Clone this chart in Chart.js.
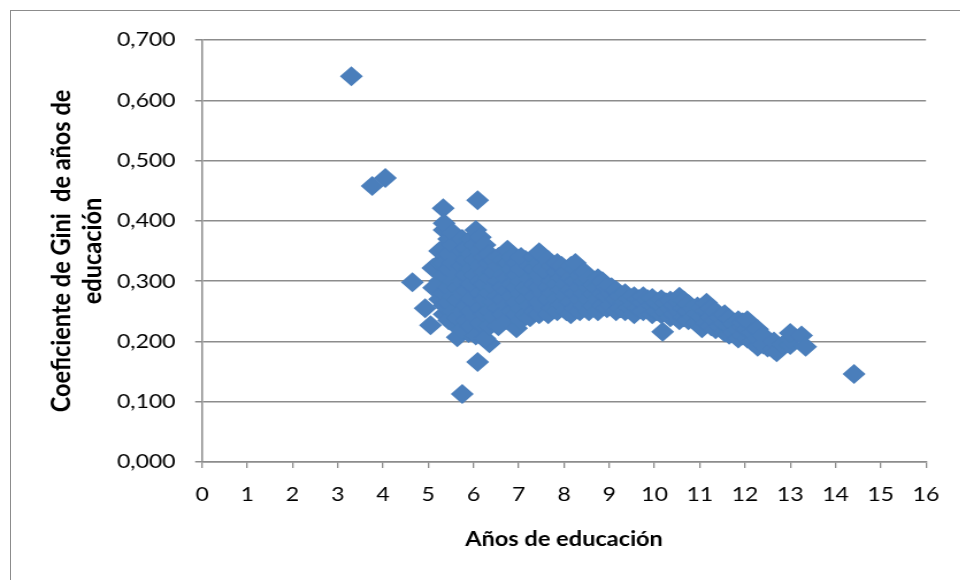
<!DOCTYPE html>
<html>
<head>
<meta charset="utf-8">
<script src="https://cdn.jsdelivr.net/npm/chart.js@4.4.1/dist/chart.umd.min.js"></script>
<style>
  html, body { margin: 0; padding: 0; background: #fff; overflow: hidden; width: 960px; height: 580px; }
  #frame { position: absolute; left: 10px; top: 10px; width: 2000px; height: 2000px; border: 1.5px solid #8c8c8c; box-sizing: border-box; }
  #wrap { position: absolute; left: 0; top: 0; width: 835px; height: 580px; transform: scaleX(1.15); transform-origin: 0 0; }
</style>
</head>
<body>
<div id="frame"></div>
<div id="wrap"><canvas id="c" width="835" height="580"></canvas></div>
<script>
// ---- data ----
const xTickLabels = ['0','1','2','3','4','5','6','7','8','9','10','11','12','13','14','15','16'];
const yTickLabels = ['0,000','0,100','0,200','0,300','0,400','0,500','0,600','0,700'];
const xTitle = 'Años de educación';
const yTitle = ['Coeficiente de Gini  de años de', 'educación'];

// isolated points
const outlierYears = [3.30, 3.76, 4.05, 4.65, 4.93, 5.05, 5.33, 6.09, 5.75, 6.09, 14.41, 10.18, 6.35, 5.64, 5.89, 5.10, 5.12];
const outlierGini  = [0.640, 0.458, 0.471, 0.298, 0.255, 0.227, 0.421, 0.434, 0.113, 0.166, 0.146, 0.216, 0.197, 0.207, 0.214, 0.322, 0.289];

// dense band: years of education per column and the Gini values in it
const bandYears = [5.25, 5.35, 5.45, 5.55, 5.65, 5.75, 5.85, 5.95, 6.05, 6.15, 6.25, 6.35, 6.45, 6.55, 6.65, 6.75, 6.85, 6.95,
  7.05, 7.15, 7.25, 7.35, 7.45, 7.55, 7.65, 7.75, 7.85, 7.95, 8.05, 8.15, 8.25, 8.35, 8.45, 8.55, 8.65, 8.75, 8.85, 8.95,
  9.05, 9.15, 9.25, 9.35, 9.45, 9.55, 9.65, 9.75, 9.85, 9.95, 10.05, 10.15, 10.25, 10.35, 10.45, 10.55, 10.65, 10.75, 10.85, 10.95,
  11.05, 11.15, 11.25, 11.35, 11.45, 11.55, 11.65, 11.75, 11.85, 11.95, 12.05, 12.15, 12.28, 12.40, 12.50, 12.64, 12.70, 12.85, 13.00, 13.25, 13.34];
const bandGini = [
  [0.270, 0.300, 0.330, 0.350],
  [0.245, 0.260, 0.280, 0.310, 0.330, 0.355, 0.385, 0.396],
  [0.235, 0.265, 0.290, 0.320, 0.345, 0.370],
  [0.230, 0.250, 0.275, 0.300, 0.330, 0.360, 0.380],
  [0.240, 0.270, 0.290, 0.310, 0.340, 0.365],
  [0.220, 0.250, 0.280, 0.300, 0.325, 0.350, 0.370],
  [0.235, 0.260, 0.285, 0.310, 0.335, 0.355],
  [0.225, 0.250, 0.270, 0.295, 0.320, 0.345, 0.370],
  [0.210, 0.240, 0.265, 0.290, 0.310, 0.335, 0.360, 0.385],
  [0.230, 0.255, 0.280, 0.300, 0.325, 0.350, 0.373],
  [0.205, 0.245, 0.270, 0.295, 0.315, 0.340, 0.360],
  [0.225, 0.250, 0.280, 0.305, 0.330, 0.345],
  [0.240, 0.265, 0.290, 0.315, 0.335],
  [0.225, 0.255, 0.275, 0.300, 0.325, 0.340],
  [0.245, 0.270, 0.290, 0.310, 0.335],
  [0.235, 0.260, 0.285, 0.305, 0.330, 0.352],
  [0.250, 0.275, 0.295, 0.320, 0.340],
  [0.222, 0.245, 0.265, 0.290, 0.310, 0.330],
  [0.235, 0.255, 0.280, 0.300, 0.320, 0.340],
  [0.245, 0.270, 0.290, 0.315, 0.335],
  [0.240, 0.260, 0.285, 0.305, 0.325],
  [0.250, 0.275, 0.295, 0.320, 0.340],
  [0.245, 0.265, 0.290, 0.310, 0.330, 0.348],
  [0.255, 0.280, 0.300, 0.320],
  [0.245, 0.270, 0.290, 0.315, 0.335],
  [0.255, 0.280, 0.300, 0.325],
  [0.250, 0.270, 0.295, 0.315, 0.330],
  [0.260, 0.285, 0.305, 0.325],
  [0.250, 0.275, 0.295, 0.315],
  [0.245, 0.265, 0.285, 0.305, 0.325],
  [0.255, 0.280, 0.300, 0.320, 0.330],
  [0.250, 0.270, 0.290, 0.310],
  [0.260, 0.280, 0.300, 0.315],
  [0.250, 0.270, 0.290, 0.305],
  [0.260, 0.280, 0.295],
  [0.250, 0.270, 0.290, 0.305],
  [0.260, 0.280, 0.300],
  [0.255, 0.275, 0.290],
  [0.260, 0.280, 0.290],
  [0.250, 0.270, 0.285],
  [0.255, 0.275],
  [0.250, 0.265, 0.280],
  [0.255, 0.270],
  [0.245, 0.260, 0.275],
  [0.255, 0.270],
  [0.250, 0.265, 0.275],
  [0.255, 0.270],
  [0.245, 0.260, 0.272],
  [0.250, 0.265],
  [0.245, 0.260, 0.270],
  [0.250, 0.265],
  [0.240, 0.255, 0.268],
  [0.245, 0.260],
  [0.235, 0.250, 0.265, 0.274],
  [0.240, 0.255, 0.268],
  [0.235, 0.250, 0.262],
  [0.240, 0.255],
  [0.230, 0.245, 0.258],
  [0.222, 0.240, 0.255],
  [0.230, 0.250, 0.264],
  [0.225, 0.240, 0.255],
  [0.220, 0.235, 0.250],
  [0.225, 0.240],
  [0.215, 0.230, 0.245],
  [0.211, 0.225, 0.238],
  [0.215, 0.230],
  [0.205, 0.220, 0.235],
  [0.210, 0.225, 0.232],
  [0.205, 0.220, 0.235],
  [0.200, 0.215],
  [0.191, 0.205, 0.220],
  [0.195, 0.210],
  [0.190, 0.200],
  [0.186, 0.200],
  [0.182],
  [0.195],
  [0.194, 0.205, 0.214],
  [0.210],
  [0.191]
];

// ---- build the dataset from the arrays ----
const points = [];
outlierYears.forEach((x, i) => points.push({ x: x, y: outlierGini[i] }));
bandYears.forEach((x, i) => bandGini[i].forEach(y => points.push({ x: x, y: y })));

const gray = '#8c8c8c';
const family = 'Lato, "Open Sans", sans-serif';

new Chart(document.getElementById('c'), {
  type: 'scatter',
  data: {
    datasets: [{
      data: points,
      pointStyle: 'rectRot',
      pointRadius: 10,
      pointBorderWidth: 0,
      backgroundColor: '#4A7EBB',
      borderColor: '#4A7EBB'
    }]
  },
  options: {
    responsive: false,
    animation: false,
    events: [],
    layout: { padding: { left: 0, right: 29.8, top: 40, bottom: 0 } },
    plugins: { legend: { display: false }, tooltip: { enabled: false } },
    scales: {
      x: {
        type: 'linear', min: 0, max: 16,
        afterFit(s) { s.height = 118; },
        ticks: {
          stepSize: 1, autoSkip: false, maxRotation: 0, padding: 15,
          color: '#000', font: { family: family, size: 20 },
          callback: (v, i) => xTickLabels[i]
        },
        grid: { drawOnChartArea: false, drawTicks: true, tickLength: 6, color: gray, lineWidth: 1.3 },
        border: { display: true, color: gray, width: 1.5 },
        title: {
          display: true, text: xTitle, color: '#000',
          font: { family: family, size: 20.5, weight: 'bold' },
          padding: { top: 0, bottom: 28 }
        }
      },
      y: {
        min: 0, max: 0.7,
        afterFit(s) { s.width = 175.7; },
        ticks: {
          stepSize: 0.1, padding: 17,
          color: '#000', font: { family: family, size: 20 },
          callback: (v, i) => yTickLabels[i]
        },
        grid: { drawTicks: true, tickLength: 6, color: gray, lineWidth: 1.5 },
        border: { display: true, color: gray, width: 1.5 },
        title: {
          display: true, text: yTitle, color: '#000',
          font: { family: family, size: 23.5, weight: 'bold', lineHeight: 1.15 },
          padding: { top: 40, bottom: 0 }
        }
      }
    }
  }
});
</script>
</body>
</html>
